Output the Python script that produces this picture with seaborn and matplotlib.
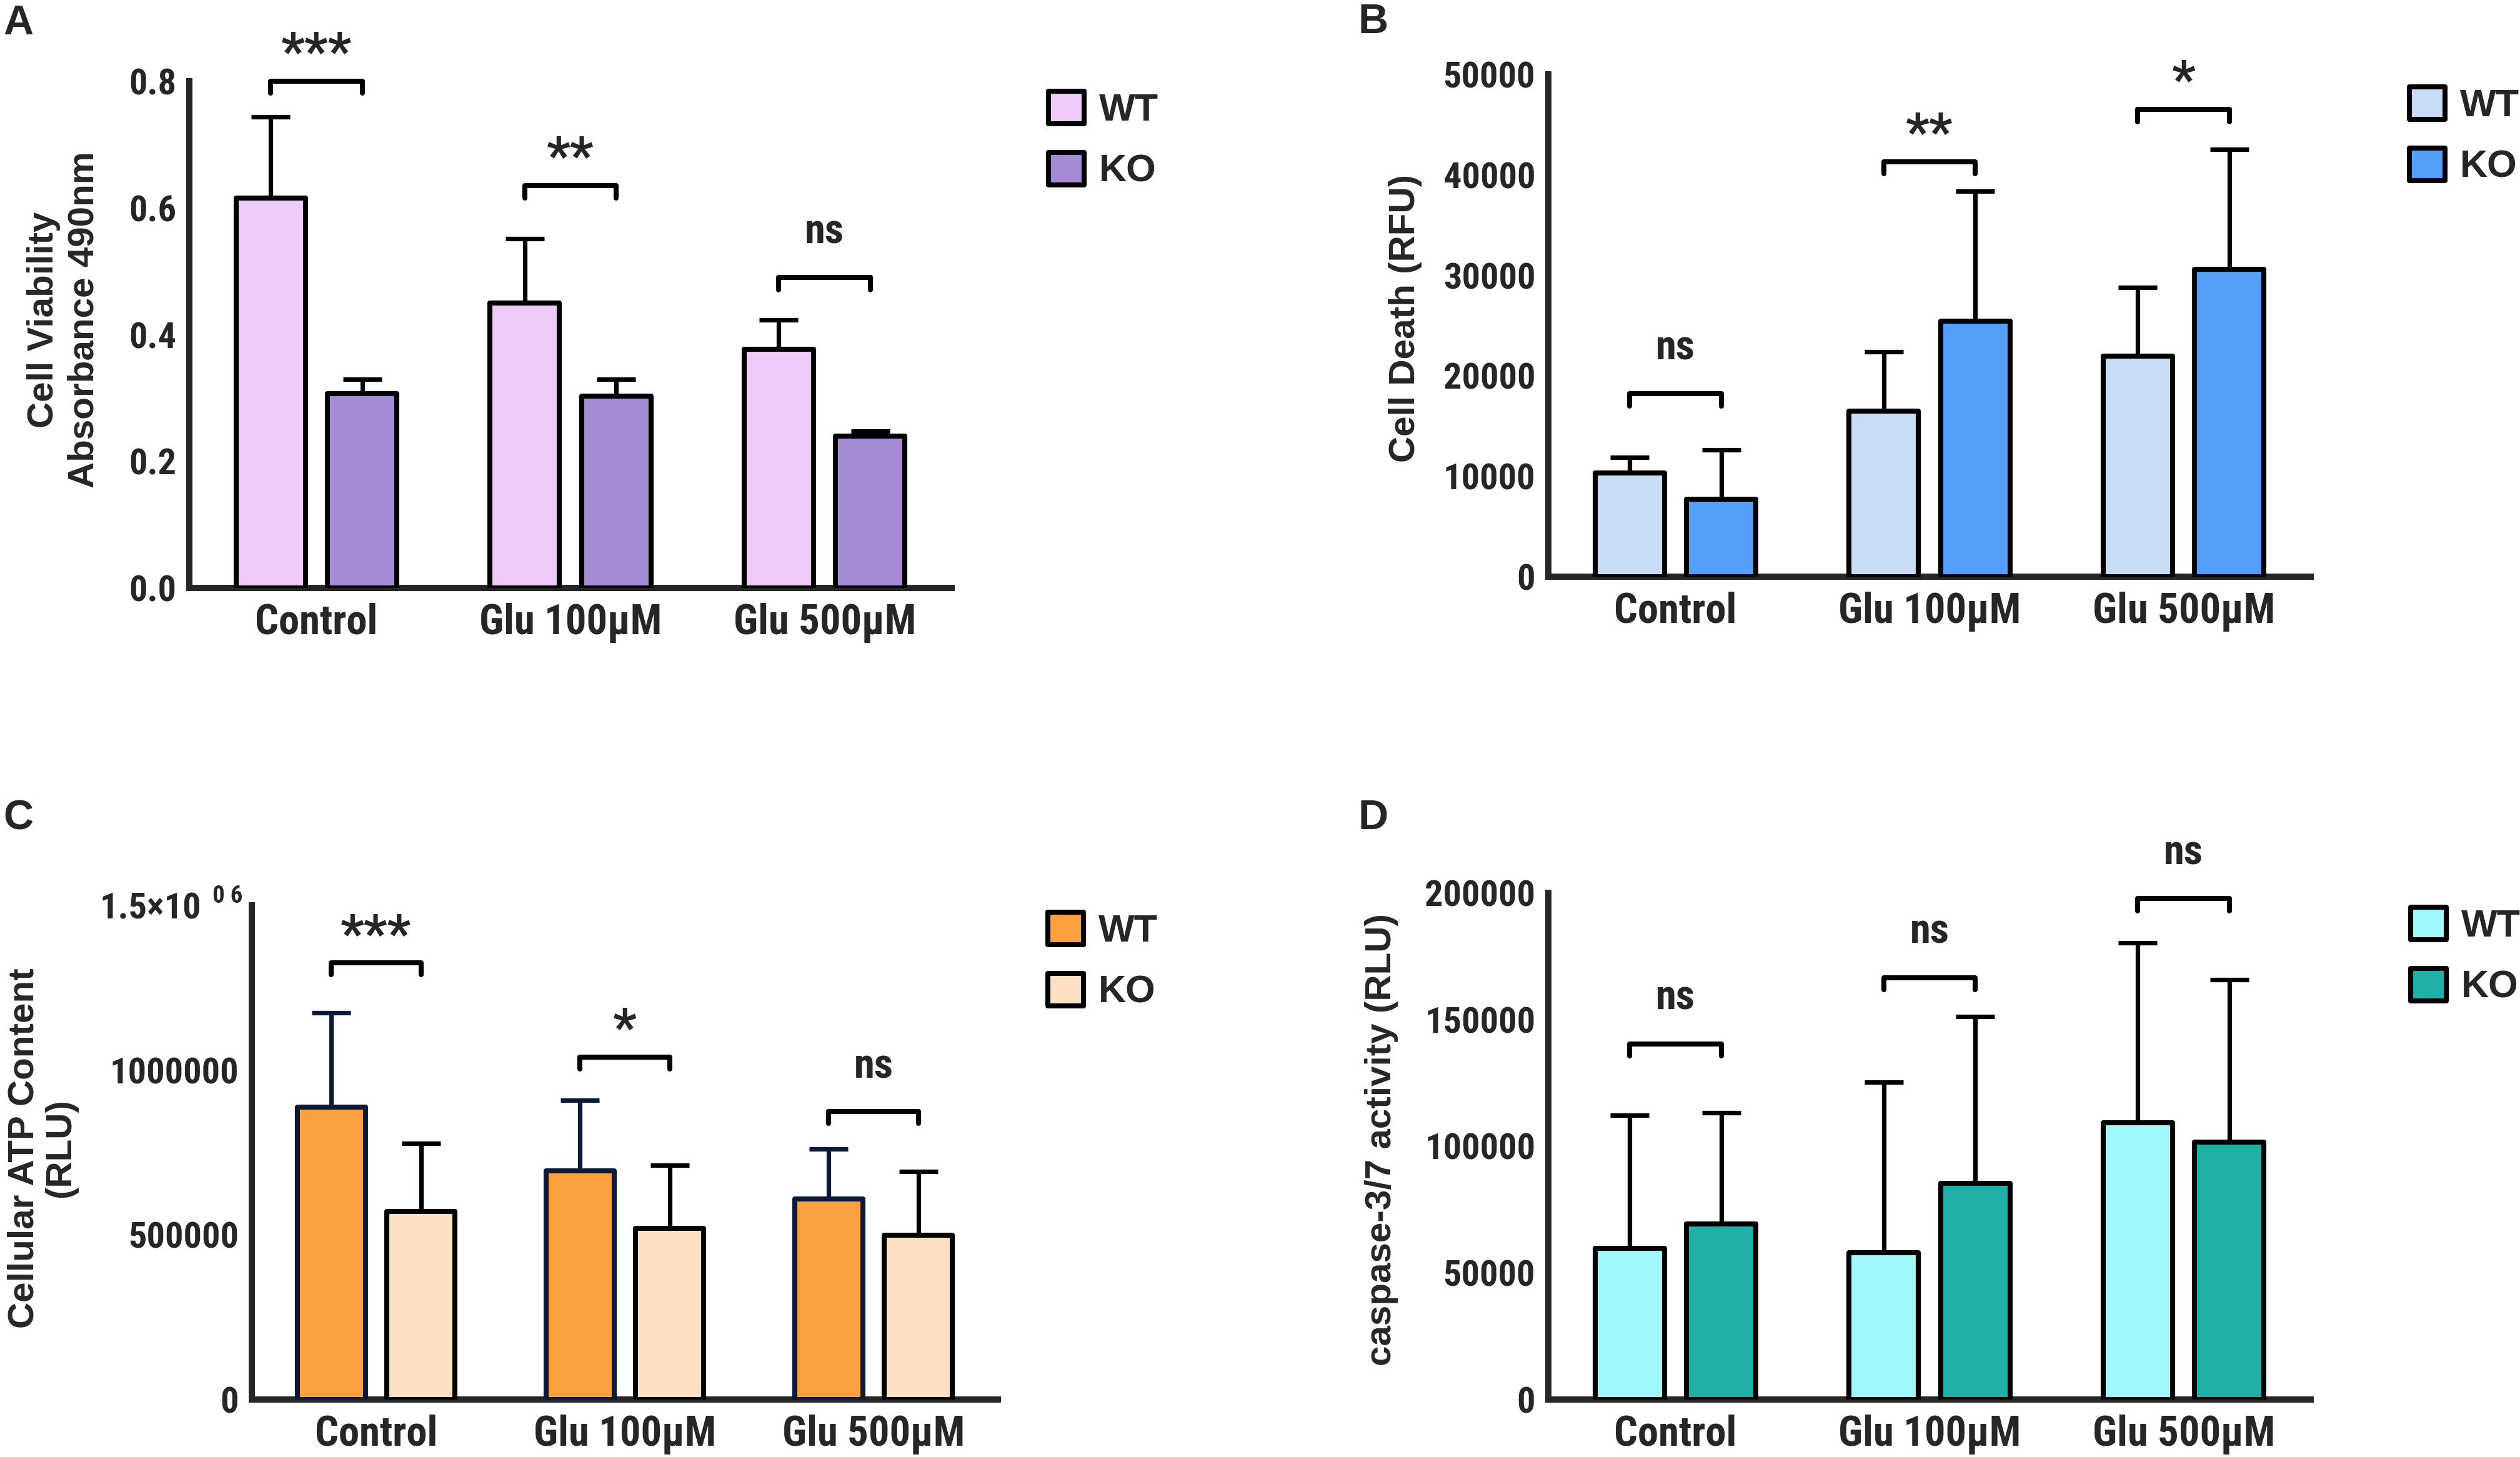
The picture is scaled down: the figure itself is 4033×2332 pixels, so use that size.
import numpy as np
import pandas as pd
import matplotlib
matplotlib.use("Agg")
import matplotlib.pyplot as plt
from matplotlib.patches import Patch
import seaborn as sns

# --- data ---
groups = ["Control", "Glu 100μM", "Glu 500μM"]
genotypes = ["WT", "KO"]

# A - cell viability (absorbance 490nm)
viab_wt = [0.616, 0.450, 0.377]
viab_wt_sd = [0.128, 0.101, 0.046]
viab_ko = [0.307, 0.303, 0.240]
viab_ko_sd = [0.022, 0.026, 0.008]
viab_sig = ["***", "**", "ns"]
viab_bracket = [0.80, 0.635, 0.49]

# B - cell death (RFU)
death_wt = [10300, 16500, 21950]
death_wt_sd = [1570, 5870, 6820]
death_ko = [7740, 25430, 30570]
death_ko_sd = [4870, 12920, 11950]
death_sig = ["ns", "**", "*"]
death_bracket = [18200, 41300, 46500]

# C - cellular ATP content (RLU)
atp_wt = [888000, 694000, 609000]
atp_wt_sd = [285500, 213500, 151500]
atp_ko = [570000, 519000, 499000]
atp_ko_sd = [207000, 193000, 193000]
atp_sig = ["***", "*", "ns"]
atp_bracket = [1325000, 1040000, 875000]

# D - caspase-3/7 activity (RLU)
casp_wt = [59800, 58000, 109200]
casp_wt_sd = [52500, 67200, 71100]
casp_ko = [69300, 85400, 101500]
casp_ko_sd = [43900, 65700, 64300]
casp_sig = ["ns", "ns", "ns"]
casp_bracket = [140400, 166500, 197700]

sns.set_style("white")
plt.rcParams["font.family"] = ["Liberation Sans", "DejaVu Sans"]
NARROW = ["Roboto Condensed", "Open Sans Condensed", "Liberation Sans Narrow",
          "Liberation Sans", "DejaVu Sans"]
WIDE = ["Liberation Sans", "DejaVu Sans"]

LW = 2.9


# --- one bar panel, GraphPad style ---
def draw_panel(ax, wt, wt_sd, ko, ko_sd, colors, ymax, yticks, yticklabels,
               sig, bracket_y, wt_edge="black"):
    df = pd.DataFrame({"group": groups * 2,
                       "genotype": ["WT"] * 3 + ["KO"] * 3,
                       "value": wt + ko})
    sns.barplot(data=df, x="group", y="value", hue="genotype", order=groups,
                hue_order=genotypes, palette=colors, saturation=1, width=0.72,
                gap=0.24, errorbar=None, edgecolor="black", linewidth=LW,
                legend=False, ax=ax, zorder=3)
    bars = sorted(ax.patches, key=lambda p: p.get_x())
    for i, p in enumerate(bars):
        p.set_joinstyle("round")
        if i % 2 == 0:
            p.set_edgecolor(wt_edge)
    xs = [p.get_x() + p.get_width() / 2 for p in bars]
    wt_x, ko_x = xs[0::2], xs[1::2]

    # upper error bars only
    ax.errorbar(wt_x, wt, yerr=[np.zeros(3), wt_sd], fmt="none", ecolor=wt_edge,
                elinewidth=2.6, capsize=11, capthick=2.6, zorder=2)
    ax.errorbar(ko_x, ko, yerr=[np.zeros(3), ko_sd], fmt="none", ecolor="black",
                elinewidth=2.6, capsize=11, capthick=2.6, zorder=2)

    # significance brackets
    drop = 0.024 * ymax
    for x0, x1, y, s in zip(wt_x, ko_x, bracket_y, sig):
        ax.plot([x0, x0, x1, x1], [y - drop, y, y, y - drop], color="black",
                lw=LW, clip_on=False, solid_joinstyle="round",
                solid_capstyle="round", zorder=4)
        if s == "ns":
            ax.text((x0 + x1) / 2, y + 0.09 * ymax, s, ha="center", va="center",
                    fontsize=24, fontweight="bold", family=NARROW, clip_on=False)
        else:
            ax.text((x0 + x1) / 2, y + 0.053 * ymax, s, ha="center", va="center",
                    fontsize=30, fontweight="bold", family=NARROW, clip_on=False)

    ax.set_xlim(-0.5, 2.5)
    ax.set_ylim(0, ymax)
    ax.set_yticks(yticks)
    ax.set_yticklabels(yticklabels)
    ax.set_xlabel("")
    ax.set_ylabel("")
    sns.despine(ax=ax)
    for side in ["left", "bottom"]:
        ax.spines[side].set_linewidth(3.6)
        ax.spines[side].set_capstyle("projecting")
    ax.tick_params(axis="y", direction="out", length=5.5, width=3.6, pad=2)
    ax.tick_params(axis="x", direction="out", length=7, width=3.6, pad=1.5)
    for lbl in ax.get_yticklabels():
        lbl.set_family(NARROW)
        lbl.set_fontweight("bold")
        lbl.set_fontsize(21)
    for lbl in ax.get_xticklabels():
        lbl.set_family(NARROW)
        lbl.set_fontweight("bold")
        lbl.set_fontsize(24)


def add_legend(ax, fig, colors, x, y):
    handles = [Patch(facecolor=c, edgecolor="black", linewidth=LW, label=g)
               for c, g in zip(colors, genotypes)]
    leg = ax.legend(handles=handles, loc="upper left", bbox_to_anchor=(x, y),
                    bbox_transform=fig.transFigure, frameon=False, borderpad=0,
                    borderaxespad=0, handlelength=0.93, handleheight=0.93,
                    handletextpad=0.4, labelspacing=0.62,
                    prop={"family": WIDE, "weight": "bold", "size": 22})
    for h in leg.legend_handles:
        h.set_joinstyle("round")


W, H = 4033, 2332
fig = plt.figure(figsize=(W / 200, H / 200), dpi=200)


def px_axes(left, right, top, bottom):
    return fig.add_axes([left / W, 1 - bottom / H, (right - left) / W, (bottom - top) / H])


axA = px_axes(303, 1523, 130, 941)
axB = px_axes(2478, 3698, 119, 923)
axC = px_axes(403, 1597, 1449, 2240)
axD = px_axes(2478, 3698, 1429, 2240)

colA = ["#EECCF7", "#A58CD4"]
colB = ["#C8DDF5", "#559EFA"]
colC = ["#FDA03F", "#FEE0C2"]
colD = ["#A0F8FC", "#20B0A8"]

draw_panel(axA, viab_wt, viab_wt_sd, viab_ko, viab_ko_sd, colA, 0.8,
           [0, 0.2, 0.4, 0.6, 0.8], ["0.0", "0.2", "0.4", "0.6", "0.8"],
           viab_sig, viab_bracket)
draw_panel(axB, death_wt, death_wt_sd, death_ko, death_ko_sd, colB, 50000,
           [0, 10000, 20000, 30000, 40000, 50000],
           ["0", "10000", "20000", "30000", "40000", "50000"],
           death_sig, death_bracket)
draw_panel(axC, atp_wt, atp_wt_sd, atp_ko, atp_ko_sd, colC, 1500000,
           [0, 500000, 1000000, 1500000],
           ["0", "500000", "1000000", "1.5×10"],
           atp_sig, atp_bracket, wt_edge="#0B1A36")
draw_panel(axD, casp_wt, casp_wt_sd, casp_ko, casp_ko_sd, colD, 200000,
           [0, 50000, 100000, 150000, 200000],
           ["0", "50000", "100000", "150000", "200000"],
           casp_sig, casp_bracket)

# GraphPad style exponent on the top tick of C
top_lbl = axC.get_yticklabels()[-1]
top_lbl.set_x(-0.05)
axC.text(-0.012, 0.995, "0 6", transform=axC.transAxes, ha="right", va="bottom",
         fontsize=14, fontweight="bold", family=NARROW)

add_legend(axA, fig, colA, 1678 / W, 1 - 146 / H)
add_legend(axB, fig, colB, 3856 / W, 1 - 139 / H)
add_legend(axC, fig, colC, 1677 / W, 1 - 1460 / H)
add_legend(axD, fig, colD, 3858 / W, 1 - 1452 / H)

# --- axis titles and panel letters ---
ylab = dict(rotation=90, ha="center", va="center", fontsize=21,
            fontweight="bold", family=WIDE)
fig.text(102 / W, 1 - 512 / H, "Cell Viability\nAbsorbance 490nm",
         linespacing=1.25, **ylab)
fig.text(2249 / W, 1 - 510 / H, "Cell Death (RFU)", **ylab)
fig.text(68 / W, 1 - 1838 / H, "Cellular ATP Content\n(RLU)", linespacing=1.1, **ylab)
fig.text(2211 / W, 1 - 1824 / H, "caspase-3/7 activity (RLU)", **ylab)

letter = dict(ha="left", va="baseline", fontsize=24, fontweight="bold", family=WIDE)
fig.text(5 / W, 1 - 55 / H, "A", **letter)
fig.text(2174 / W, 1 - 53 / H, "B", **letter)
fig.text(5 / W, 1 - 1327 / H, "C", **letter)
fig.text(2173 / W, 1 - 1327 / H, "D", **letter)

plt.savefig("out.png", dpi=200)
